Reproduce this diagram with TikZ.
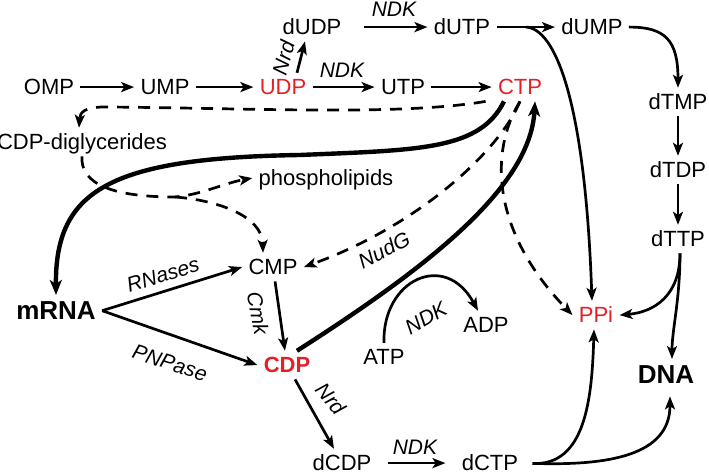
\documentclass[tikz,border=0pt]{standalone}
\usepackage{fontspec}
\setmainfont{Liberation Sans}
\usetikzlibrary{arrows.meta}
\definecolor{ntred}{RGB}{228,32,38}

\begin{document}
\begin{tikzpicture}[x=0.5pt, y=-0.5pt,
  met/.style={font=\fontsize{11}{13}\selectfont, text height=7.9pt, text depth=0pt, inner sep=3pt, anchor=base},
  key/.style={met, text=ntred},
  big/.style={met, font=\fontsize{13}{15}\selectfont\bfseries, text height=9.3pt},
  lbl/.style={font=\fontsize{10.5}{12}\selectfont\itshape, inner sep=0pt},
  rxn/.style={-{Stealth[length=6.5pt,width=5pt,inset=1.6pt]}, line width=1.35pt},
  heavy/.style={-{Stealth[length=7.5pt,width=6pt,inset=2pt]}, line width=2.2pt},
  side/.style={rxn, dash pattern=on 6pt off 4.5pt}]

\useasboundingbox (0,0) rectangle (709,474);

% pyrimidine pool
\node[met] (OMP) at (49,95) {OMP};
\node[met] (UMP) at (165,95) {UMP};
\node[key] (UDP) at (283,95) {UDP};
\node[met] (UTP) at (403,95) {UTP};
\node[key] (CTP) at (520,95) {CTP};
\node[met] (dUDP) at (312,35) {dUDP};
\node[met] (dUTP) at (462,35) {dUTP};
\node[met] (dUMP) at (592,35) {dUMP};
\node[met] (dTMP) at (678,110) {dTMP};
\node[met] (dTDP) at (678,178) {dTDP};
\node[met] (dTTP) at (678,247) {dTTP};
\node[met] (CDPdg) at (82,150) {CDP-diglycerides};
\node[met] (lipid) at (326,186) {phospholipids};
\node[met] (CMP) at (273,275) {CMP};
\node[key, font=\fontsize{11}{13}\selectfont\bfseries] (CDP) at (287,373) {CDP};
\node[big] (mRNA) at (56,320) {mRNA};
\node[met] (dCDP) at (342,471) {dCDP};
\node[met] (dCTP) at (490,471) {dCTP};
\node[met] (ATP) at (384,365) {ATP};
\node[met] (ADP) at (486,333) {ADP};
\node[key] (PPi) at (596,323) {PPi};
\node[big] (DNA) at (666,384) {DNA};

% enzymes
\node[lbl] (ndkA) at (342,70) {NDK};
\node[lbl] (ndkB) at (394,9) {NDK};
\node[lbl] (ndkC) at (415,447) {NDK};
\node[lbl, rotate=30] (ndkD) at (426,318) {NDK};
\node[lbl, rotate=75] (nrdA) at (284,58) {Nrd};
\node[lbl, rotate=-50] (nrdB) at (331,399) {Nrd};
\node[lbl, rotate=17] (rnase) at (163,275) {RNases};
\node[lbl, rotate=-18] (pnp) at (170,363) {PNPase};
\node[lbl, rotate=-79] (cmk) at (258,313) {Cmk};
\node[lbl, rotate=27] (nudg) at (384,250) {NudG};

\path[rxn]
  (OMP) edge (UMP)
  (UMP) edge (UDP)
  (UDP) edge (UTP)
  (UTP) edge (CTP)
  ([xshift=7pt]UDP.north) edge ([xshift=-3.5pt]dUDP.south)
  (dUDP) edge[shorten <=8pt] (dUTP)
  (dTMP) edge (dTDP)
  (dTDP) edge (dTTP)
  (mRNA.east) edge (CMP.west)
  (mRNA.east) edge (CDP.west)
  (CMP) edge (CDP)
  (CDP) edge (dCDP)
  (dCDP) edge[shorten <=5pt, shorten >=5pt] (dCTP);

\draw[rxn] (dUTP) -- coordinate[pos=0.5] (forkU) (dUMP);
\draw[rxn] (forkU) .. controls (555,28) and (585,100) .. ([xshift=-2pt]PPi.north);
\draw[rxn] (dUMP.east) .. controls (665,27) and (678,40) .. (dTMP.north);
\draw[rxn] ([xshift=1pt]dTTP.south) .. controls (680,295) and (655,312) .. (PPi.east);
\draw[rxn] ([xshift=1pt]dTTP.south) .. controls (680,300) and (672,330) .. ([xshift=3pt]DNA.north);
\draw[rxn, shorten <=4pt] (dCTP.east) .. controls (585,466) and (592,400) .. ([xshift=-1pt]PPi.south);
\draw[rxn, shorten <=4pt, shorten >=3pt] (dCTP.east) .. controls (610,466) and (670,455) .. ([xshift=2pt]DNA.south);
\draw[rxn] (ATP.north) .. controls (382,280) and (445,250) .. ([xshift=-4pt]ADP.north);

% lipid and salvage side routes
\coordinate (forkL) at (175,197);
\draw[side] ([xshift=-3pt]CTP.south west) .. controls (400,116) and (250,108) .. (105,107)
  .. controls (85,107) and (80,112) .. ([xshift=-1.5pt]CDPdg.north);
\draw[side] (CDPdg.south) .. controls (80,185) and (115,197) .. (forkL)
  .. controls (200,195) and (225,183) .. (lipid.west);
\draw[side] (forkL) .. controls (215,200) and (262,215) .. ([xshift=-5pt]CMP.north);
\draw[side] (CTP.south) .. controls (500,150) and (420,225) .. (CMP.east);
\draw[side] (CTP.south) .. controls (490,150) and (490,230) .. (PPi.west);

% main CTP fluxes
\draw[heavy] ([xshift=-8pt]CTP.south) .. controls (480,150) and (420,150) .. (300,155)
  .. controls (110,158) and (55,190) .. (mRNA.north);
\draw[heavy] ([xshift=5pt]CDP.north) .. controls (420,272) and (530,190) .. ([xshift=7.5pt]CTP.south);
\end{tikzpicture}
\end{document}
